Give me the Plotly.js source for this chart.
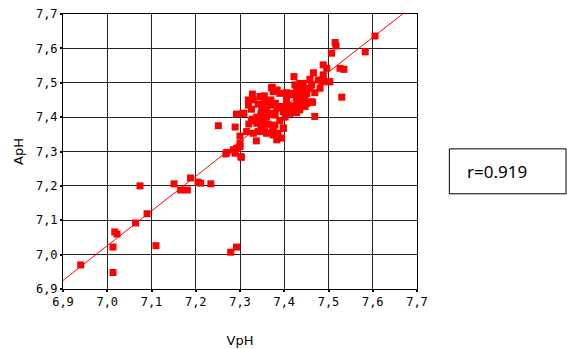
<!DOCTYPE html>
<html>
<head>
<meta charset="utf-8">
<script src="https://cdn.plot.ly/plotly-3.0.1.min.js"></script>
<style>html,body{margin:0;padding:0;background:#fff;}#chart{width:567px;height:349px;}</style>
</head>
<body>
<div id="chart"></div>
<script>
const vph = [6.94,7.013,7.013,7.017,7.022,7.11,7.064,7.09,7.074,7.151,7.166,7.181,7.188,7.205,7.211,7.234,7.279,7.292,7.268,7.285,
7.289,7.303,7.30,7.292,7.337,7.251,7.289,7.292,7.309,7.319,7.328,7.315,7.30,7.328,7.326,7.373,7.384,7.405,7.355,7.341,
7.347,7.364,7.379,7.402,7.326,7.338,7.349,7.364,7.379,7.341,7.356,7.374,7.386,7.398,7.33,7.30,7.302,7.352,7.349,7.422,
7.466,7.488,7.477,7.503,7.458,7.435,7.428,7.443,7.462,7.481,7.417,7.435,7.451,7.469,7.428,7.447,7.464,7.417,7.432,7.447,
7.42,7.428,7.422,7.53,7.469,7.515,7.517,7.507,7.583,7.605,7.488,7.496,7.526,7.535,7.488,7.50,7.485,7.398,7.375,7.394,
7.435,7.451,7.462,7.413,7.398,7.383,7.368,7.405,7.42,7.432,7.424,7.443,7.33,7.307,7.375,7.39,7.345,7.356,7.405,7.394,
7.379,7.36,7.439,7.447,7.458,7.375,7.36,7.383,7.371,7.319,7.338,7.32,7.35,7.36,7.39,7.41,7.40,7.37,7.38,7.27];
const aph = [6.97,6.948,7.022,7.066,7.06,7.026,7.092,7.119,7.20,7.206,7.188,7.188,7.223,7.211,7.208,7.206,7.007,7.022,7.293,7.305,
7.295,7.283,7.314,7.309,7.331,7.375,7.371,7.409,7.411,7.45,7.467,7.358,7.345,7.394,7.423,7.487,7.479,7.471,7.462,7.438,
7.409,7.411,7.406,7.40,7.39,7.382,7.372,7.379,7.377,7.358,7.358,7.358,7.353,7.369,7.353,7.324,7.285,7.435,7.426,7.518,
7.529,7.523,7.508,7.503,7.51,7.498,7.484,7.484,7.494,7.484,7.469,7.465,7.469,7.471,7.45,7.452,7.443,7.433,7.433,7.431,
7.421,7.413,7.416,7.458,7.402,7.617,7.607,7.586,7.59,7.636,7.552,7.542,7.542,7.539,7.51,7.503,7.503,7.367,7.372,7.339,
7.421,7.44,7.445,7.411,7.416,7.426,7.435,7.445,7.465,7.474,7.494,7.498,7.45,7.411,7.474,7.469,7.46,7.445,7.46,7.431,
7.411,7.421,7.45,7.469,7.484,7.348,7.353,7.334,7.485,7.435,7.40,7.38,7.39,7.40,7.39,7.43,7.42,7.45,7.44,7.297];
const tickVals = [6.9,7.0,7.1,7.2,7.3,7.4,7.5,7.6,7.7];
const tickText = ["6,9","7,0","7,1","7,2","7,3","7,4","7,5","7,6","7,7"];
const fitSlope = 1.01, fitIntercept = -0.044;
const fitX = [6.9, 7.7];
const fitY = fitX.map(x => fitSlope * x + fitIntercept);
const rLabel = "r=0.919";

const red = "rgb(255,0,0)";
const axisCommon = {
  range: [6.9, 7.7], tickvals: tickVals, ticktext: tickText,
  showgrid: true, gridcolor: "#222", gridwidth: 1,
  showline: true, linecolor: "#000", linewidth: 1, mirror: true,
  ticks: "outside", ticklen: 2, tickwidth: 2, tickcolor: "#000",
  zeroline: false, fixedrange: true,
  tickfont: {family: "DejaVu Sans Mono", size: 12, color: "#000"}
};
const layout = {
  width: 567, height: 349,
  margin: {l: 63, r: 150, t: 14, b: 60},
  paper_bgcolor: "#fff", plot_bgcolor: "#fff",
  showlegend: false,
  xaxis: Object.assign({}, axisCommon, {
    title: {text: "VpH", font: {family: "DejaVu Sans", size: 13, color: "#000"}, standoff: 27}
  }),
  yaxis: Object.assign({}, axisCommon, {
    title: {text: "ApH", font: {family: "DejaVu Sans", size: 13, color: "#000"}, standoff: 9}
  }),
  shapes: [{type: "rect", xref: "paper", yref: "paper", x0: 1.0914, x1: 1.421, y0: 0.3462, y1: 0.5096,
            line: {color: "#000", width: 1}, fillcolor: "rgba(0,0,0,0)"}],
  annotations: [{xref: "paper", yref: "paper", x: 1.1367, y: 0.428, xanchor: "left", yanchor: "middle",
                 text: rLabel, showarrow: false, font: {family: "Noto Sans", size: 17, color: "#000"}}]
};
const traces = [
  {x: fitX, y: fitY, mode: "lines", line: {color: red, width: 1}, hoverinfo: "skip"},
  {x: vph, y: aph, mode: "markers", cliponaxis: false,
   marker: {symbol: "square", size: 7, color: red, line: {width: 0}}}
];
Plotly.newPlot("chart", traces, layout, {staticPlot: true, displayModeBar: false});
</script>
</body>
</html>
